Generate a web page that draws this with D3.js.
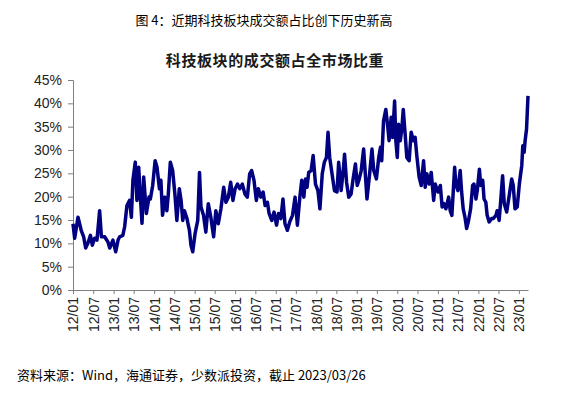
<!DOCTYPE html>
<html>
<head>
<meta charset="utf-8">
<script src="https://cdn.jsdelivr.net/npm/d3@7"></script>
<style>
  body { margin: 0; background: #fff; }
  svg { display: block; }
</style>
</head>
<body>
<svg id="chart" width="585" height="399"></svg>
<script>
const figTitle = "图 4：近期科技板块成交额占比创下历史新高";
const chartTitle = "科技板块的成交额占全市场比重";
const sourceNote = "资料来源：Wind，海通证券，少数派投资，截止 2023/03/26";

const yTicks = [0, 5, 10, 15, 20, 25, 30, 35, 40, 45];

// weekly-ish readings (share of total turnover, %)
const dates = [
  "2012-01-01","2012-01-16","2012-02-15","2012-03-15","2012-04-06","2012-04-24","2012-05-14","2012-06-06","2012-06-23","2012-07-14",
  "2012-08-04","2012-08-28","2012-09-13","2012-10-12","2012-11-11","2012-11-27","2012-12-26","2013-01-20","2013-02-10","2013-02-25",
  "2013-03-25","2013-04-10","2013-05-01","2013-05-25","2013-06-10","2013-06-24","2013-07-15","2013-07-30","2013-08-15","2013-08-30",
  "2013-09-14","2013-09-29","2013-10-23","2013-11-16","2013-11-28","2013-12-19","2014-01-10","2014-01-27","2014-02-18","2014-03-03",
  "2014-03-18","2014-04-08","2014-04-26","2014-05-09","2014-05-27","2014-06-17","2014-07-07","2014-07-25","2014-08-16","2014-09-01",
  "2014-09-16","2014-10-01","2014-10-24","2014-11-15","2014-11-29","2014-12-15","2015-01-05","2015-01-29","2015-02-14","2015-02-27",
  "2015-03-22","2015-04-12","2015-05-04","2015-05-27","2015-06-21","2015-07-11","2015-08-02","2015-08-26","2015-09-20","2015-10-10",
  "2015-11-01","2015-11-22","2015-12-12","2016-01-01","2016-01-22","2016-02-12","2016-03-06","2016-03-29","2016-04-20","2016-05-11",
  "2016-05-29","2016-06-19","2016-07-10","2016-07-28","2016-08-19","2016-09-09","2016-09-27","2016-10-18","2016-11-02","2016-11-26",
  "2016-12-17","2017-01-08","2017-01-26","2017-02-16","2017-03-07","2017-03-25","2017-04-16","2017-05-07","2017-06-01","2017-06-24",
  "2017-07-15","2017-08-06","2017-08-23","2017-09-11","2017-09-26","2017-10-10","2017-10-25","2017-11-16","2017-12-04","2017-12-25",
  "2018-01-16","2018-02-03","2018-02-24","2018-03-15","2018-04-03","2018-04-17","2018-05-02","2018-05-23","2018-06-14","2018-07-07",
  "2018-07-22","2018-08-13","2018-09-01","2018-09-13","2018-10-01","2018-10-21","2018-11-11","2018-11-29","2018-12-20","2019-01-05",
  "2019-01-20","2019-02-10","2019-03-04","2019-03-19","2019-04-03","2019-04-27","2019-05-18","2019-06-03","2019-06-27","2019-07-18",
  "2019-08-03","2019-08-14","2019-08-30","2019-09-20","2019-10-08","2019-10-19","2019-11-07","2019-11-20","2019-12-08","2019-12-19",
  "2020-01-01","2020-01-13","2020-01-28","2020-02-12","2020-02-24","2020-03-12","2020-03-27","2020-04-17","2020-05-05","2020-05-26",
  "2020-06-10","2020-06-25","2020-07-16","2020-08-04","2020-08-25","2020-09-09","2020-09-24","2020-10-15","2020-11-02","2020-11-24",
  "2020-12-08","2021-01-02","2021-01-23","2021-02-08","2021-02-23","2021-03-14","2021-04-08","2021-04-22","2021-05-07","2021-06-01",
  "2021-06-12","2021-06-30","2021-07-21","2021-08-03","2021-08-17","2021-09-02","2021-09-17","2021-10-02","2021-10-23","2021-11-10",
  "2021-11-22","2021-12-10","2021-12-22","2022-01-10","2022-01-22","2022-02-09","2022-02-21","2022-03-09","2022-03-21","2022-04-08",
  "2022-04-30","2022-05-14","2022-06-08","2022-06-19","2022-07-07","2022-07-20","2022-08-07","2022-08-22","2022-09-13","2022-10-06",
  "2022-10-28","2022-11-11","2022-11-27","2022-12-17","2023-01-05","2023-01-27","2023-02-05","2023-02-17","2023-02-26","2023-03-11",
  "2023-03-24"
];
const shares = [
  14.2,11.1,15.6,12.8,11.4,9.0,10.0,11.7,9.6,11.1,
  10.7,17.0,11.4,11.4,10.3,9.0,10.7,8.2,10.7,11.4,
  11.7,13.5,18.1,19.2,15.6,23.5,27.4,19.2,26.3,19.9,
  14.3,24.2,16.4,19.9,19.5,22.4,27.7,26.3,21.7,23.5,
  16.0,19.9,17.0,20.6,27.4,25.6,20.6,14.9,21.7,19.2,
  14.9,17.0,15.3,12.8,9.6,8.2,12.1,14.9,25.2,17.8,
  16.0,12.4,18.5,15.6,11.4,17.0,14.2,17.4,22.0,18.8,
  19.9,23.1,19.2,21.7,22.7,21.7,22.7,20.6,19.9,24.9,
  25.6,23.5,19.2,21.7,19.9,21.0,18.1,18.8,16.4,14.9,
  16.7,13.9,16.4,15.3,19.5,14.2,12.8,14.6,16.0,19.9,
  13.9,19.9,23.5,19.9,23.8,22.0,25.2,25.6,28.8,22.7,
  21.3,17.4,24.9,27.4,28.4,33.8,28.4,24.9,21.3,21.0,
  27.4,21.3,25.6,29.1,23.1,19.9,20.6,23.8,27.0,22.4,
  23.5,25.6,30.2,24.9,19.5,24.9,30.2,25.6,23.8,28.4,
  30.6,27.7,36.2,38.7,34.8,32.0,37.0,32.7,40.5,32.0,
  28.4,35.5,32.0,34.8,38.7,33.4,28.4,27.7,33.8,32.0,
  32.7,28.8,24.2,22.4,27.7,22.0,24.9,22.7,25.2,19.2,
  22.7,21.0,22.4,17.8,18.5,17.4,19.9,17.0,16.0,26.3,
  22.7,21.3,25.6,21.0,17.4,15.6,13.2,14.6,17.4,22.4,
  22.7,19.5,21.3,25.9,22.4,23.5,19.5,18.8,16.0,14.6,
  15.3,15.3,16.0,17.0,14.9,18.8,24.5,18.5,16.7,20.3,
  23.8,22.4,17.4,17.8,22.7,26.7,30.9,29.5,32.0,34.5,
  41.6
];

const parse = d3.timeParse("%Y-%m-%d");
const data = dates.map((d, i) => ({ date: parse(d), value: shares[i] }));

const svg = d3.select("#chart");
const margin = { left: 73, right: 57, top: 80, bottom: 109 };
const width = 585, height = 399;

const x = d3.scaleTime()
  .domain([parse("2012-01-01"), parse("2023-03-24")])
  .range([margin.left, width - margin.right]);
const y = d3.scaleLinear()
  .domain([0, 45])
  .range([height - margin.bottom, margin.top]);

const axisColor = "#808080";
const labelFont = "Arial, 'Liberation Sans', sans-serif";

// titles
svg.append("text")
  .attr("x", 264).attr("y", 25)
  .attr("text-anchor", "middle")
  .style("font-family", "'Noto Sans CJK SC', sans-serif")
  .style("font-size", "13px")
  .attr("fill", "#000")
  .text(figTitle);

svg.append("text")
  .attr("x", 275).attr("y", 66)
  .attr("text-anchor", "middle")
  .style("font-family", "'Noto Sans CJK SC', sans-serif")
  .style("font-size", "15px")
  .style("font-weight", "600")
  .style("letter-spacing", "0.6px")
  .attr("fill", "#1a1a1a")
  .text(chartTitle);

// y axis
const yAxis = svg.append("g")
  .attr("transform", "translate(" + margin.left + ",0)")
  .call(d3.axisLeft(y).tickValues(yTicks).tickSize(5).tickPadding(6).tickFormat(d => d + "%"));
yAxis.selectAll("text")
  .style("font-family", labelFont)
  .style("font-size", "14px")
  .attr("fill", "#222");

// x axis
const xAxis = svg.append("g")
  .attr("transform", "translate(0," + y(0) + ")")
  .call(d3.axisBottom(x)
    .ticks(d3.timeMonth.filter(d => d.getMonth() % 6 === 0))
    .tickSize(4)
    .tickSizeOuter(0)
    .tickFormat(d3.timeFormat("%y/%m")));
xAxis.selectAll("text")
  .style("font-family", labelFont)
  .style("font-size", "14px")
  .attr("fill", "#222")
  .attr("text-anchor", "end")
  .attr("dx", "-7px")
  .attr("dy", "0.35em")
  .attr("transform", "rotate(-90)")
  .attr("x", 0).attr("y", 0);

svg.selectAll(".domain, .tick line").attr("stroke", axisColor);

// the series
const line = d3.line()
  .x(d => x(d.date))
  .y(d => y(d.value));

svg.append("path")
  .datum(data)
  .attr("fill", "none")
  .attr("stroke", "#000080")
  .attr("stroke-width", 3.5)
  .attr("stroke-linejoin", "round")
  .attr("d", line);

// source note
svg.append("text")
  .attr("x", 17).attr("y", 380)
  .style("font-family", "'Noto Sans CJK SC', sans-serif")
  .style("font-size", "13px")
  .attr("fill", "#000")
  .text(sourceNote);
</script>
</body>
</html>
